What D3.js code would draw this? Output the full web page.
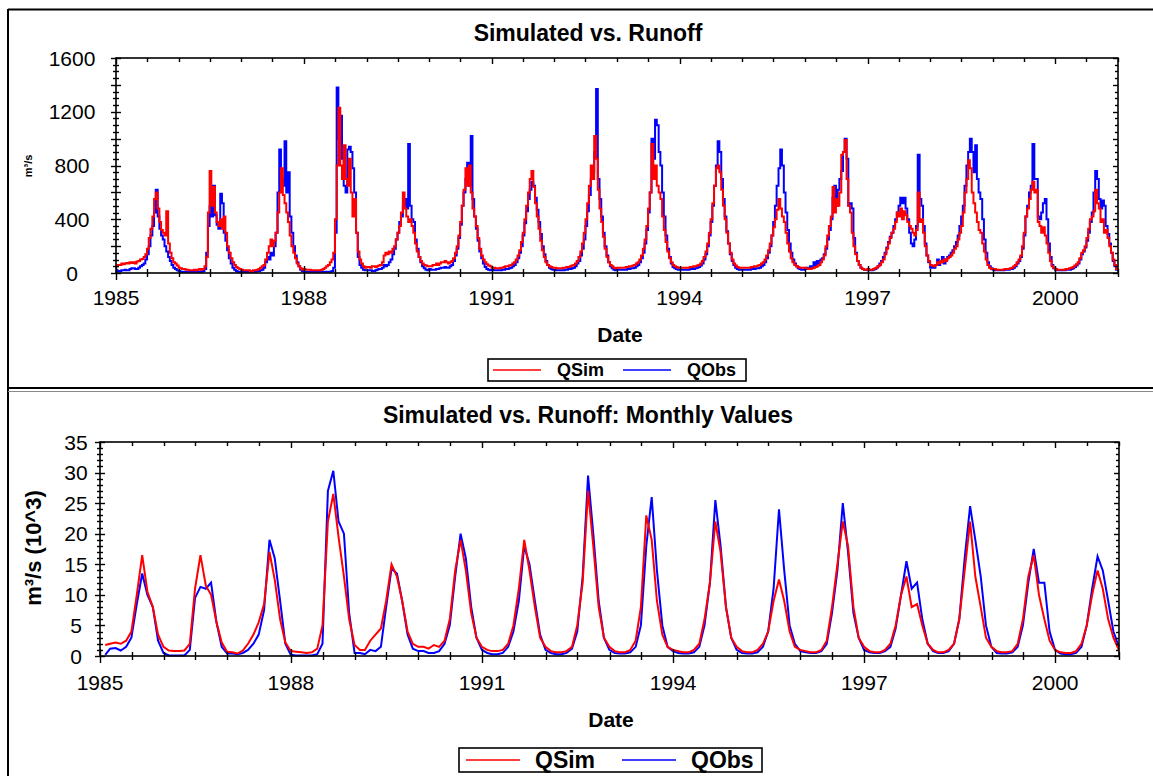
<!DOCTYPE html>
<html>
<head>
<meta charset="utf-8">
<script src="https://cdn.jsdelivr.net/npm/d3@7"></script>
<style>
  html, body { margin: 0; padding: 0; background: #fff; }
  svg { display: block; }
  text { font-family: "Liberation Sans", Arial, sans-serif; fill: #000; }
</style>
</head>
<body>
<svg id="chart" width="1153" height="776"></svg>
<script>
// ---- data -------------------------------------------------------------
const startYear = 1985;
const endYear = 2001;
const seriesNames = ["QSim", "QObs"];
const seriesColors = ["#ff0000", "#0000ff"];
const yearLabels = [1985, 1988, 1991, 1994, 1997, 2000];
const dailyTickValues = [0, 400, 800, 1200, 1600];
const monthlyTickValues = [0, 5, 10, 15, 20, 25, 30, 35];

// Ten-day flows (m³/s), one row per year, three values per month
const qsimDekadal = [
  [50,60,60,70,65,70,75,70,80,75,80,70,85,90,100,105,120,140,180,260,330,420,550,600,480,380,320,300,280,460,220,150,110,80,70,55],
  [40,35,30,30,25,25,20,20,20,25,20,25,30,25,30,50,120,450,760,500,640,450,380,350,400,330,420,300,200,150,110,80,60,45,35,30],
  [25,20,20,20,20,15,15,20,20,25,30,40,50,60,100,150,200,250,200,240,300,450,600,780,580,520,450,380,280,200,150,110,70,50,35,25],
  [30,25,25,25,20,20,20,20,20,20,25,30,40,50,60,80,100,150,400,800,1230,800,700,950,700,650,850,600,420,550,300,160,100,70,50,40],
  [45,45,40,50,50,45,50,55,60,80,130,150,140,160,150,180,200,250,300,350,450,600,480,420,380,400,350,300,220,160,120,90,70,60,55,50],
  [50,50,60,60,70,60,70,80,80,90,80,70,80,90,110,150,200,280,380,500,620,780,650,800,600,480,420,350,260,180,130,100,80,65,55,50],
  [40,40,35,35,35,40,40,45,50,50,55,60,70,80,100,130,170,230,300,400,500,600,700,760,640,520,420,330,240,170,120,80,60,50,45,40],
  [40,35,35,35,35,40,40,45,45,50,55,60,70,90,120,160,220,300,400,520,650,800,700,1020,850,620,480,380,270,180,120,80,60,50,40,35],
  [40,40,40,40,40,45,45,50,50,55,60,70,80,100,130,180,250,350,480,600,960,700,800,650,600,550,420,320,230,160,110,80,60,50,45,40],
  [40,40,40,40,40,40,45,45,50,50,55,60,70,90,120,160,220,300,400,520,650,780,800,750,620,500,400,300,220,150,100,70,55,45,40,40],
  [40,40,40,40,40,45,45,50,50,55,60,70,80,100,130,170,220,280,340,400,470,550,480,420,380,300,220,160,110,80,60,50,45,40,40,40],
  [40,35,30,30,35,40,45,50,60,80,100,130,200,280,350,420,640,450,550,500,600,880,900,990,700,500,450,300,200,140,90,60,40,30,25,25],
  [30,25,25,30,35,40,50,60,80,100,140,180,220,260,300,330,380,450,420,480,400,460,430,380,350,330,300,280,320,600,380,400,300,200,130,90],
  [60,55,50,60,80,70,90,80,100,90,110,120,130,150,180,200,250,300,350,450,600,700,840,780,600,520,450,380,320,300,220,160,100,60,40,30],
  [30,30,25,25,25,25,25,30,30,30,35,40,50,60,80,100,130,200,300,420,480,550,620,680,600,620,380,350,300,340,280,220,150,90,50,35],
  [30,25,25,25,25,25,30,30,35,40,45,55,65,80,110,150,170,200,260,330,400,420,460,620,520,480,380,400,300,320,260,200,150,100,60,30]
];
const qobsDekadal = [
  [20,15,15,20,20,25,20,20,30,35,35,30,30,40,50,60,70,100,140,200,280,350,450,620,420,330,280,250,200,160,120,90,60,40,30,20],
  [15,10,10,10,10,10,10,10,10,10,10,10,10,10,15,30,150,350,500,420,650,430,360,330,590,520,300,240,170,110,70,40,25,15,10,10],
  [10,10,10,10,10,10,10,10,10,15,15,20,25,40,80,120,100,150,130,200,300,600,920,700,650,980,600,750,420,300,200,130,80,50,25,15],
  [10,10,10,10,10,10,10,10,10,10,10,10,10,10,10,10,15,40,300,1380,1000,1170,850,650,600,920,940,900,780,600,300,120,60,40,25,20],
  [20,20,20,15,15,20,25,30,30,40,60,50,60,80,100,140,180,250,300,380,420,500,550,480,960,500,400,380,250,180,120,80,50,35,25,20],
  [30,25,25,25,30,30,35,40,40,45,40,40,50,60,90,130,180,260,360,500,600,700,820,650,1020,550,420,330,240,160,110,70,45,30,25,20],
  [25,20,20,20,20,20,25,25,30,30,35,40,50,60,80,110,150,200,280,370,460,550,620,680,650,560,470,380,290,200,140,90,60,40,30,25],
  [25,20,20,20,20,20,25,25,30,30,35,40,50,70,90,130,180,250,350,460,580,700,750,900,1370,700,550,420,300,200,130,80,50,35,25,20],
  [25,25,25,25,25,25,30,30,35,35,40,50,60,80,110,150,220,320,450,600,1000,850,1140,1100,900,800,600,420,280,180,120,70,45,35,30,25],
  [25,25,25,25,25,25,30,30,30,35,40,45,55,70,100,140,200,280,380,500,650,800,980,900,700,550,420,310,220,140,90,60,40,30,25,25],
  [25,25,25,25,25,30,30,30,35,35,40,50,60,80,110,150,200,280,380,500,650,780,920,800,600,450,320,220,150,100,70,50,35,30,25,25],
  [30,40,30,50,40,80,60,90,70,100,110,140,180,250,320,400,560,650,500,620,700,760,900,1000,850,500,520,480,260,150,90,60,40,30,25,25],
  [20,20,20,25,30,40,50,70,90,120,150,190,230,270,300,350,400,450,500,560,520,560,480,400,300,220,200,250,350,880,550,500,350,220,130,80],
  [40,50,40,60,100,60,80,120,70,100,120,130,150,170,200,230,280,350,420,500,650,800,900,1000,900,750,950,700,600,550,400,250,150,80,50,35],
  [25,20,20,20,20,20,20,25,25,25,30,30,40,50,70,90,120,180,280,420,500,600,650,960,700,700,420,400,450,520,550,400,220,120,60,35],
  [20,20,20,20,20,20,25,25,25,30,35,45,55,70,100,140,160,190,240,300,380,450,600,760,700,550,480,540,500,350,290,220,150,90,50,25]
];

// Monthly totals (m³/s × 10^3), one row per year, Jan..Dec
const qsimMonthly = [
  [1.8,2.0,2.2,2.0,2.5,4.0,10,16.5,10.5,8,3.5,1.5],
  [0.9,0.8,0.8,0.9,2.0,11,16.5,11.5,10,5.5,2.2,0.7],
  [0.6,0.4,0.9,2.0,3.5,5.5,8.5,17,12.5,6,2.2,0.8],
  [0.7,0.6,0.5,0.6,1.2,5,22,26.5,19.5,13,6,1.8],
  [1.0,1.0,2.5,3.5,4.5,9,15,13,9,4,2,1.5],
  [1.5,1.2,1.8,1.5,2.5,6,14,19,14,7,3,1.5],
  [1.0,0.8,0.8,1.0,2,5,11,19,14,8,3,1.5],
  [0.8,0.6,0.6,0.8,1.5,5,12,27,18,8,3,1.5],
  [0.8,0.6,0.6,1.0,2.5,8,23,19,9,3.5,1.5,1.0],
  [0.8,0.6,0.6,1.0,2,6,12,22,17,8,3,1.5],
  [0.8,0.6,0.6,1.0,2,4,9,12.5,9,4,1.5,1.0],
  [0.8,0.6,0.6,1.0,2.5,8,15,22,18,8,3,1.5],
  [0.8,0.6,0.6,1.0,2,5,10,13,8,8.5,5,2],
  [1.0,0.6,0.6,1.0,2,6,14,22,13,8,3,1.5],
  [0.8,0.6,0.6,0.8,2,6,13,16.5,10,6,2.5,1.0],
  [0.6,0.5,0.5,0.8,2,5,10,14,11,6,3,1.0]
];
const qobsMonthly = [
  [0.2,1.2,1.3,0.9,1.5,3.0,8.5,13.5,10,8,2.5,0.5],
  [0.1,0.1,0.1,0.1,1.0,9.5,11.3,11,12,5.5,1.5,0.4],
  [0.4,0.3,0.5,1.0,2.0,3.5,7.5,19,16,9,2,0.2],
  [0.1,0.1,0.1,0.1,0.3,2,27,30.3,22,20,7,0.5],
  [0.5,0.3,1.0,0.8,1.5,8,14.3,13.5,9,3.5,1.2,0.8],
  [0.8,0.5,0.5,0.8,2,5,13,20,16,8,3,1],
  [0.5,0.3,0.3,0.5,1.5,4,9,18,15,9,3.5,1],
  [0.5,0.3,0.3,0.5,1.2,4,13,29.5,20,9,3,1],
  [0.5,0.4,0.4,0.6,1.5,5,18,26,14,5,1.5,0.8],
  [0.5,0.4,0.4,0.6,1.5,5,12,25.5,18,8,3,1],
  [0.5,0.4,0.4,0.6,1.5,4,11,24,14,5,2,0.8],
  [0.6,0.5,0.5,0.8,2,7,14,25,17,7,3,1],
  [0.6,0.5,0.5,0.8,1.5,4.5,10,15.5,11,12,6,2],
  [0.8,0.5,0.5,0.8,2,6,16,24.5,19,13,5,1.5],
  [0.5,0.4,0.4,0.6,1.5,5,12,17.5,12,12,4,1],
  [0.4,0.3,0.3,0.5,1.5,5,11,16.3,14,9,4,1.5]
];

// ---- helpers ----------------------------------------------------------
// ten-day periods start on the 1st, 11th and 21st of each month
function dekadalSeries(rows) {
  const pts = [];
  rows.forEach((row, yi) => row.forEach((v, i) => {
    pts.push({ date: new Date(startYear + yi, Math.floor(i / 3), 1 + (i % 3) * 10), value: v });
  }));
  // close the last step at the end of the record
  pts.push({ date: new Date(endYear, 0, 1), value: pts[pts.length - 1].value });
  return pts;
}
// monthly totals are stamped on the last day of their month
function monthlySeries(rows) {
  const pts = [];
  rows.forEach((row, yi) => row.forEach((v, m) => {
    pts.push({ date: new Date(startYear + yi, m + 1, 0), value: v });
  }));
  return pts;
}

const svg = d3.select("#chart");

// outer frame and the divider between the two panels
svg.append("line").attr("x1", 8).attr("x2", 1153).attr("y1", 9.5).attr("y2", 9.5)
  .attr("stroke", "#000").attr("stroke-width", 2);
svg.append("line").attr("x1", 8).attr("x2", 8).attr("y1", 9).attr("y2", 776)
  .attr("stroke", "#000").attr("stroke-width", 2);
svg.append("line").attr("x1", 8).attr("x2", 1153).attr("y1", 388).attr("y2", 388)
  .attr("stroke", "#000").attr("stroke-width", 2);
svg.append("line").attr("x1", 8).attr("x2", 1153).attr("y1", 391.5).attr("y2", 391.5)
  .attr("stroke", "#8a8a8a").attr("stroke-width", 1);

function drawPanel(cfg) {
  const g = svg.append("g");
  const x = d3.scaleTime()
    .domain([new Date(startYear, 0, 1), new Date(endYear, 0, 1)])
    .range([cfg.left, cfg.right]);
  const y = d3.scaleLinear().domain([0, cfg.yMax]).range([cfg.bottom, cfg.top]);

  // title
  g.append("text").attr("x", cfg.titleX).attr("y", cfg.titleY)
    .attr("text-anchor", "middle").attr("font-weight", "bold")
    .attr("font-size", cfg.titleSize).text(cfg.title);

  // series (observed first, simulated on top)
  const line = d3.line().x(d => x(d.date)).y(d => y(d.value)).curve(cfg.curve);
  [1, 0].forEach(k => {
    g.append("path").datum(cfg.series[k])
      .attr("fill", "none").attr("stroke", seriesColors[k])
      .attr("stroke-width", cfg.lineWidth).attr("stroke-linejoin", "miter")
      .attr("d", line);
  });

  // plot frame
  g.append("rect").attr("x", cfg.left).attr("y", cfg.top)
    .attr("width", cfg.right - cfg.left).attr("height", cfg.bottom - cfg.top)
    .attr("fill", "none").attr("stroke", "#000").attr("stroke-width", 1.6);

  // y ticks
  const yMinor = d3.range(0, cfg.yMax + 1e-9, cfg.yMinorStep);
  yMinor.forEach(v => {
    const major = Math.abs(v / cfg.yMajorStep - Math.round(v / cfg.yMajorStep)) < 1e-9;
    const len = major ? 5 : 3;
    const yy = Math.round(y(v)) + 0.5;
    g.append("line").attr("x1", cfg.left - len).attr("x2", cfg.left + len)
      .attr("y1", yy).attr("y2", yy).attr("stroke", "#000").attr("stroke-width", 1.4);
    g.append("line").attr("x1", cfg.right - len).attr("x2", cfg.right)
      .attr("y1", yy).attr("y2", yy).attr("stroke", "#000").attr("stroke-width", 1.4);
  });
  cfg.yTicks.forEach(v => {
    g.append("text").attr("x", cfg.yLabelX).attr("y", y(v) + cfg.tickSize * 0.36)
      .attr("text-anchor", "middle").attr("font-size", cfg.tickSize).text(v);
  });

  // x ticks every half year, longer at labelled years
  const halfYears = d3.timeMonth.every(6).range(new Date(startYear, 0, 1), new Date(endYear, 0, 2));
  halfYears.forEach(dt => {
    const labelled = dt.getMonth() === 0 && yearLabels.includes(dt.getFullYear());
    const xx = Math.round(x(dt)) + 0.5;
    const len = labelled ? 7 : 4;
    g.append("line").attr("x1", xx).attr("x2", xx)
      .attr("y1", cfg.bottom - len).attr("y2", cfg.bottom + len)
      .attr("stroke", "#000").attr("stroke-width", 1.4);
    g.append("line").attr("x1", xx).attr("x2", xx)
      .attr("y1", cfg.top).attr("y2", cfg.top + (labelled ? 6 : 4))
      .attr("stroke", "#000").attr("stroke-width", 1.4);
  });
  yearLabels.forEach(yr => {
    g.append("text").attr("x", x(new Date(yr, 0, 1))).attr("y", cfg.xLabelY)
      .attr("text-anchor", "middle").attr("font-size", cfg.tickSize).text(yr);
  });

  // axis titles
  g.append("text").attr("x", cfg.dateX).attr("y", cfg.dateY)
    .attr("text-anchor", "middle").attr("font-weight", "bold")
    .attr("font-size", cfg.axisTitleSize).text("Date");
  g.append("text")
    .attr("transform", `translate(${cfg.yTitleX},${cfg.yTitleY}) rotate(-90)`)
    .attr("text-anchor", "middle").attr("font-weight", "bold")
    .attr("font-size", cfg.yTitleSize).text(cfg.yTitle);

  // legend
  const lg = cfg.legend;
  g.append("rect").attr("x", lg.x).attr("y", lg.y).attr("width", lg.w).attr("height", lg.h)
    .attr("fill", "#fff").attr("stroke", "#000").attr("stroke-width", 1.6);
  seriesNames.forEach((name, k) => {
    const ox = lg.x + lg.itemOffsets[k];
    g.append("line").attr("x1", ox).attr("x2", ox + lg.lineLen)
      .attr("y1", lg.y + lg.h / 2).attr("y2", lg.y + lg.h / 2)
      .attr("stroke", seriesColors[k]).attr("stroke-width", 1.6);
    g.append("text").attr("x", ox + lg.textGap).attr("y", lg.y + lg.h / 2 + lg.size * 0.36)
      .attr("font-weight", "bold").attr("font-size", lg.size).text(name);
  });
}

// daily-style panel
drawPanel({
  title: "Simulated vs. Runoff", titleX: 588, titleY: 41, titleSize: 23,
  left: 116, right: 1118, top: 58, bottom: 273,
  yMax: 1600, yMinorStep: 50, yMajorStep: 200, yTicks: dailyTickValues,
  yLabelX: 72, xLabelY: 305, tickSize: 21,
  series: [dekadalSeries(qsimDekadal), dekadalSeries(qobsDekadal)],
  curve: d3.curveStepAfter, lineWidth: 2,
  dateX: 620, dateY: 342, axisTitleSize: 21,
  yTitle: "m³/s", yTitleX: 32, yTitleY: 166, yTitleSize: 11,
  legend: { x: 488, y: 359, w: 258, h: 22, size: 18, lineLen: 48,
            itemOffsets: [5, 135], textGap: 64 }
});

// monthly panel
drawPanel({
  title: "Simulated vs. Runoff: Monthly Values", titleX: 588, titleY: 423, titleSize: 23,
  left: 100, right: 1119, top: 442, bottom: 656,
  yMax: 35, yMinorStep: 1, yMajorStep: 5, yTicks: monthlyTickValues,
  yLabelX: 76, xLabelY: 690, tickSize: 21,
  series: [monthlySeries(qsimMonthly), monthlySeries(qobsMonthly)],
  curve: d3.curveLinear, lineWidth: 2,
  dateX: 611, dateY: 727, axisTitleSize: 21,
  yTitle: "m³/s (10^3)", yTitleX: 41, yTitleY: 548, yTitleSize: 22,
  legend: { x: 459, y: 748, w: 303, h: 24, size: 23, lineLen: 54,
            itemOffsets: [7, 163], textGap: 69 }
});
</script>
</body>
</html>
